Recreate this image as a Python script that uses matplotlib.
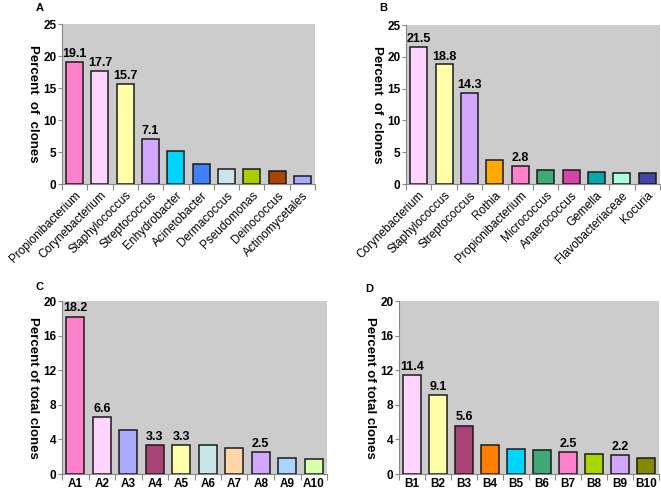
import matplotlib
matplotlib.use("Agg")
import matplotlib.pyplot as plt
import numpy as np

plt.rcParams['font.family'] = ['Liberation Sans', 'DejaVu Sans']

# ---- data ----
a_labels = ["Propionibacterium", "Corynebacterium", "Staphylococcus", "Streptococcus",
            "Enhydrobacter", "Acinetobacter", "Dermacoccus", "Pseudomonas",
            "Deinococcus", "Actinomycetales"]
a_values = [19.1, 17.7, 15.7, 7.1, 5.2, 3.1, 2.3, 2.3, 2.1, 1.3]
a_shown = [19.1, 17.7, 15.7, 7.1, None, None, None, None, None, None]
a_colors = ["#FF80CC", "#FFD5FF", "#FFFFAA", "#D2A8FF", "#00D5FF", "#3F80FF",
            "#C8E6E8", "#AACC00", "#AA4400", "#AAAAFF"]

b_labels = ["Corynebacterium", "Staphylococcus", "Streptococcus", "Rothia",
            "Propionibacterium", "Micrococcus", "Anaerococcus", "Gemella",
            "Flavobacteriaceae", "Kocuria"]
b_values = [21.5, 18.8, 14.3, 3.7, 2.8, 2.2, 2.2, 1.9, 1.7, 1.7]
b_shown = [21.5, 18.8, 14.3, None, 2.8, None, None, None, None, None]
b_colors = ["#FFD5FF", "#FFFFAA", "#D2A8FF", "#FFAA00", "#FF80CC", "#3FAA77",
            "#D545A8", "#00AAAA", "#AAFFDD", "#4444AA"]

c_labels = ["A1", "A2", "A3", "A4", "A5", "A6", "A7", "A8", "A9", "A10"]
c_values = [18.2, 6.6, 5.1, 3.3, 3.3, 3.3, 3.0, 2.5, 1.8, 1.7]
c_shown = [18.2, 6.6, None, 3.3, 3.3, None, None, 2.5, None, None]
c_colors = ["#FF80CC", "#FFD5FF", "#AAAAFF", "#AA4477", "#FFFFAA", "#C8E6E8",
            "#FFD5AA", "#D2A8FF", "#AAD5FF", "#D5FFAA"]

d_labels = ["B1", "B2", "B3", "B4", "B5", "B6", "B7", "B8", "B9", "B10"]
d_values = [11.4, 9.1, 5.6, 3.4, 2.9, 2.8, 2.5, 2.3, 2.2, 1.9]
d_shown = [11.4, 9.1, 5.6, None, None, None, 2.5, None, 2.2, None]
d_colors = ["#FFD5FF", "#FFFFAA", "#AA4477", "#FF8000", "#00D5FF", "#3FAA77",
            "#FF80CC", "#AAD500", "#D2A8FF", "#888800"]

W, H = 661, 490
fig = plt.figure(figsize=(W / 100, H / 100), dpi=100)
fig.patch.set_facecolor("white")


def make_axes(x0, y0, x1, y1):
    return fig.add_axes([x0 / W, 1 - y1 / H, (x1 - x0) / W, (y1 - y0) / H])


def panel(ax, labels, values, shown, colors, ymax, ystep, ylabel, rot):
    x = np.arange(len(values))
    ax.set_facecolor("#CCCCCC")
    ax.bar(x, values, width=0.67, color=colors, edgecolor="#1a1a1a", linewidth=1.1, zorder=3)
    for xi, s in zip(x, shown):
        if s is not None:
            ax.text(xi, s + ymax * 0.012, f"{s}", ha="center", va="bottom",
                    fontsize=9, fontweight="bold", zorder=4)
    ax.set_xlim(-0.5, len(values) - 0.5)
    ax.set_ylim(0, ymax)
    ax.set_yticks(np.arange(0, ymax + 0.1, ystep))
    ax.set_yticklabels([f"{int(v)}" for v in np.arange(0, ymax + 0.1, ystep)],
                       fontsize=8.5, fontweight="bold")
    ax.set_xticks(x)
    if rot:
        ax.set_xticklabels(labels, rotation=45, ha="right", rotation_mode="anchor",
                           fontsize=8.5)
        ax.tick_params(axis="x", which="major", length=0, pad=4)
    else:
        ax.set_xticklabels(labels, fontsize=8.5, fontweight="bold")
        ax.tick_params(axis="x", which="major", length=0, pad=3)
    ax.set_xticks(np.arange(-0.5, len(values), 1), minor=True)
    ax.tick_params(axis="x", which="minor", length=4, color="#888888", width=0.8)
    ax.tick_params(axis="y", length=3, color="#888888", width=0.8, pad=1)
    for s in ["top", "right"]:
        ax.spines[s].set_visible(False)
    ax.spines["left"].set_color("#888888")
    ax.spines["bottom"].set_color("#888888")
    ax.spines["left"].set_linewidth(0.8)
    ax.spines["bottom"].set_linewidth(0.8)
    ax.set_ylabel(ylabel, rotation=-90, fontsize=9.5, fontweight="bold", labelpad=12,
                  va="bottom")


axA = make_axes(62, 24, 315, 184)
panel(axA, a_labels, a_values, a_shown, a_colors, 25, 5, "Percent  of  clones", True)
axB = make_axes(406, 25, 660, 184)
panel(axB, b_labels, b_values, b_shown, b_colors, 25, 5, "Percent  of  clones", True)
axC = make_axes(62, 301, 327, 474)
panel(axC, c_labels, c_values, c_shown, c_colors, 20, 4, "Percent of total clones", False)
axD = make_axes(399, 301, 659, 474)
panel(axD, d_labels, d_values, d_shown, d_colors, 20, 4, "Percent of total clones", False)

for lbl, px, py in [("A", 40, 8), ("B", 383, 8), ("C", 40, 287), ("D", 369, 289)]:
    fig.text(px / W, 1 - py / H, lbl, fontsize=8, fontweight="bold", ha="center", va="center")

fig.savefig("out.png", dpi=100, facecolor="white")
